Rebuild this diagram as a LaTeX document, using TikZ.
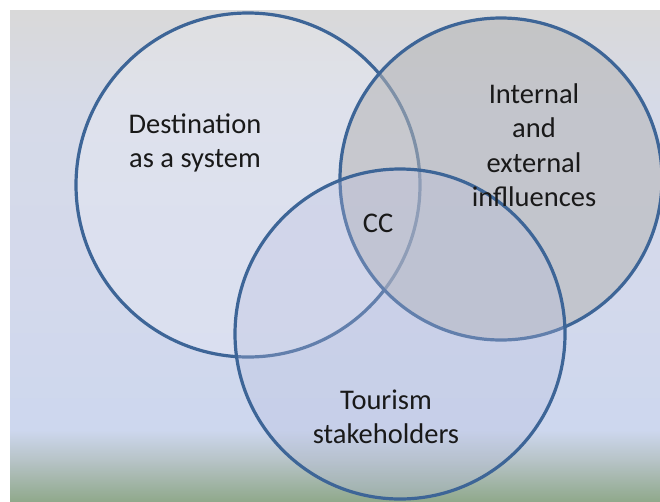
\documentclass[tikz,border=0pt]{standalone}
\usepackage{fontspec}
\setmainfont{Carlito}
\begin{document}
\begin{tikzpicture}[x=1pt,y=-1pt]
\definecolor{ringc}{HTML}{3D6597}
\definecolor{bgA}{HTML}{D9D9D9}
\definecolor{bgB}{HTML}{D6DAE8}
\definecolor{bgC}{HTML}{D3D9EC}
\definecolor{bgD}{HTML}{CDD7EE}
\definecolor{bgE}{HTML}{B5C2C4}
\definecolor{bgF}{HTML}{90A98C}
\definecolor{fillTwo}{HTML}{B5B5B5}
\definecolor{fillThree}{HTML}{B8BEDF}
\tikzset{
  ring/.style={draw=ringc, line width=3.2pt},
  lbl/.style={font=\fontsize{28.5}{34.5}\selectfont, align=center, inner sep=0pt, text=black!90}
}
\useasboundingbox (0,0) rectangle (660,501);
\fill[white] (0,0) rectangle (660,501);
% background gradient
\shade[top color=bgA, bottom color=bgB] (10,10) rectangle (660,110.5);
\shade[top color=bgB, bottom color=bgC] (10,110) rectangle (660,300.5);
\shade[top color=bgC, bottom color=bgD] (10,300) rectangle (660,430.5);
\shade[top color=bgD, bottom color=bgE] (10,430) rectangle (660,462.5);
\shade[top color=bgE, bottom color=bgF] (10,462) rectangle (660,501);
% circles
\draw[ring, fill=white, fill opacity=0.2] (248,185) circle[radius=172];
\draw[ring, fill=fillTwo, fill opacity=0.55] (501,179) circle[radius=161];
\draw[ring, fill=fillThree, fill opacity=0.3] (400,334) circle[radius=165];
% labels
\node[lbl] (dest) at (195,143) {Destination\\as a system};
\node[lbl] (infl) at (534,145) {Internal\\and\\external\\inflluences};
\node[lbl] (cc) at (378,223) {CC};
\node[lbl] (tour) at (386,417) {Tourism\\stakeholders};
\end{tikzpicture}
\end{document}
